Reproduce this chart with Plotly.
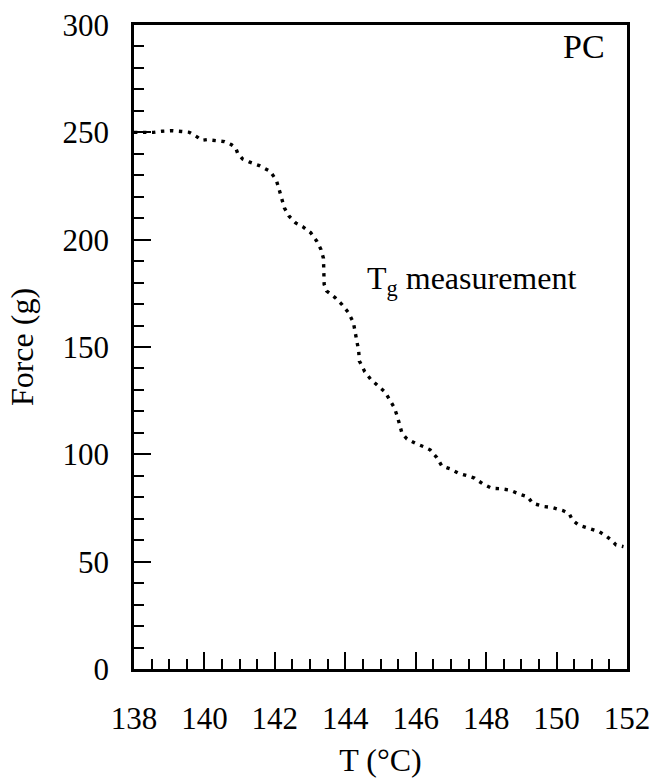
import plotly.graph_objects as go

temp_c = [138.00, 138.55, 138.79, 139.09, 139.35, 139.57, 139.80, 139.92, 140.08, 140.30,
          140.57, 140.76, 140.89, 140.94, 141.08, 141.27, 141.56, 141.86, 142.04, 142.10,
          142.16, 142.22, 142.27, 142.40, 142.59, 142.79, 143.02, 143.19, 143.31, 143.38,
          143.38, 143.38, 143.40, 143.47, 143.71, 143.90, 144.09, 144.23, 144.28, 144.35,
          144.38, 144.40, 144.55, 144.72, 144.94, 145.13, 145.27, 145.39, 145.48, 145.54,
          145.61, 145.75, 145.98, 146.22, 146.41, 146.60, 146.74, 146.98, 147.21, 147.47,
          147.67, 147.90, 148.16, 148.42, 148.68, 148.94, 149.18, 149.32, 149.63, 149.89,
          150.18, 150.36, 150.45, 150.62, 150.94, 151.21, 151.40, 151.55, 151.69, 151.90]
force_g = [250.0, 250.0, 250.5, 250.8, 250.4, 250.0, 247.8, 246.3, 246.6, 246.1,
           245.7, 244.3, 242.7, 240.4, 237.6, 236.2, 234.5, 231.9, 227.8, 224.6,
           221.0, 218.5, 214.8, 211.0, 207.8, 206.1, 203.2, 199.3, 195.4, 191.3,
           187.7, 183.4, 179.2, 176.1, 173.0, 169.9, 166.0, 161.4, 156.7, 152.0,
           148.2, 143.5, 138.6, 135.0, 131.9, 129.0, 125.1, 121.8, 117.6, 113.8,
           109.8, 107.2, 105.2, 103.6, 102.1, 98.5, 94.6, 93.2, 91.2, 90.0,
           88.9, 86.3, 84.2, 84.0, 83.3, 81.5, 80.2, 77.2, 75.7, 75.2,
           73.8, 72.3, 69.4, 67.1, 65.5, 64.0, 62.0, 60.1, 57.8, 57.0]

x_ticks = [138, 140, 142, 144, 146, 148, 150, 152]
y_ticks = [0, 50, 100, 150, 200, 250, 300]

FONT = "Liberation Serif"

fig = go.Figure()
fig.add_trace(go.Scatter(
    x=temp_c, y=force_g, mode="lines",
    line=dict(color="black", width=3.4, dash="3.4px,5.6px"),
    showlegend=False,
))

axis_common = dict(
    showgrid=False, zeroline=False,
    showline=True, linecolor="black", linewidth=2.5, mirror=True,
    ticks="inside", ticklen=17, tickwidth=2, tickcolor="black",
    tickfont=dict(family=FONT, size=31, color="black"),
)

fig.update_xaxes(
    range=[138, 152], tickvals=x_ticks, ticktext=[str(v) for v in x_ticks],
    minor=dict(dtick=0.5, ticks="inside", ticklen=10, tickwidth=2, tickcolor="black"),
    title=dict(text="T (°C)", font=dict(family=FONT, size=32, color="black"), standoff=14),
    ticklabelstandoff=20,
    **axis_common,
)
fig.update_yaxes(
    range=[0, 300], tickvals=y_ticks, ticktext=[str(v) for v in y_ticks],
    minor=dict(dtick=10, ticks="inside", ticklen=10, tickwidth=2, tickcolor="black"),
    title=dict(text="Force (g)", font=dict(family=FONT, size=32, color="black"), standoff=20),
    ticklabelstandoff=16,
    **axis_common,
)

fig.add_annotation(x=151.43, y=290, xref="x", yref="y", text="PC", showarrow=False,
                   xanchor="right", yanchor="middle",
                   font=dict(family=FONT, size=34, color="black"))
fig.add_annotation(x=144.55, y=181, xref="x", yref="y", text="T<sub>g</sub> measurement",
                   showarrow=False, xanchor="left", yanchor="middle",
                   font=dict(family=FONT, size=32, color="black"))

fig.update_layout(
    width=656, height=779,
    margin=dict(l=134, r=29, t=25, b=110, autoexpand=False),
    paper_bgcolor="white", plot_bgcolor="white",
)

fig.write_html("out.html")
